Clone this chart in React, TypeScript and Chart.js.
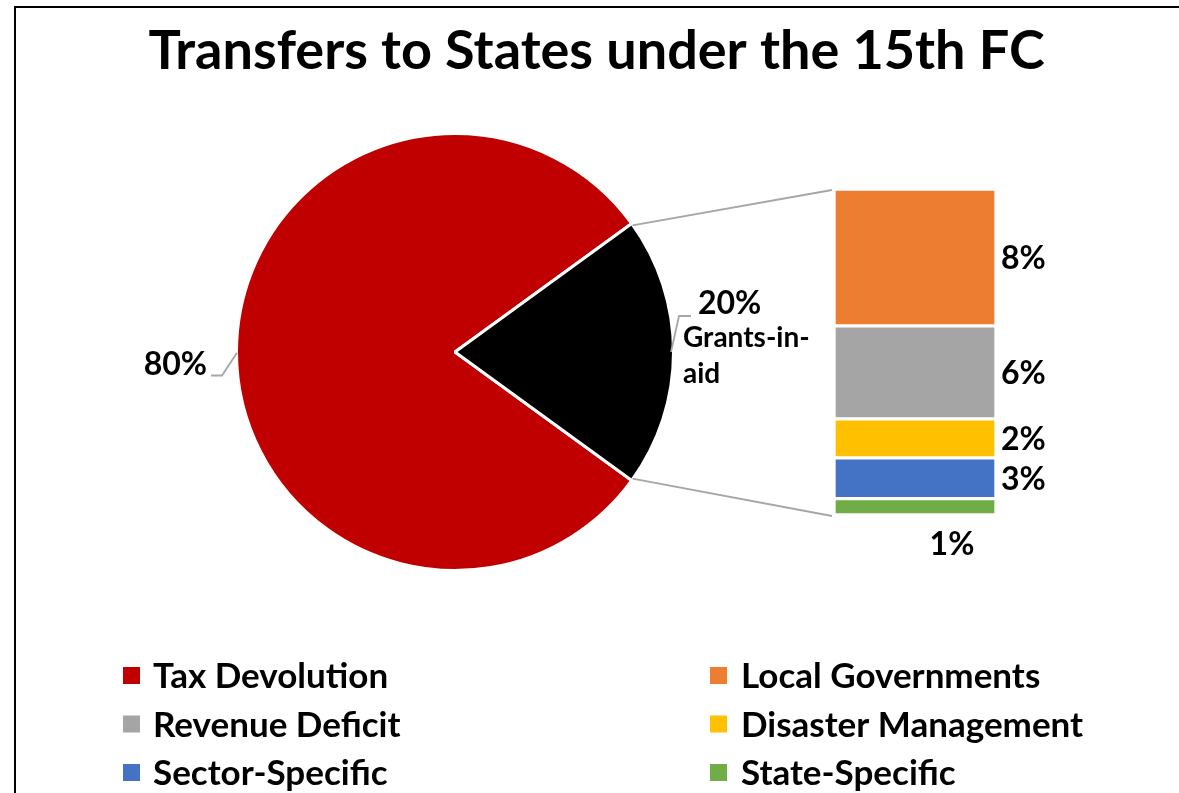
import React, { useEffect, useRef } from 'react';
import { Chart, registerables } from 'chart.js';

Chart.register(...registerables);

// ---------- data ----------
const chartTitle = 'Transfers to States under the 15th FC';
const pieLabels = ['Tax Devolution', 'Grants-in-aid'];
const pieValues = [80.0, 20.0];
const pieColors = ['#C00000', '#000000'];

const barLabels = ['Local Governments', 'Revenue Deficit', 'Disaster Management', 'Sector-Specific', 'State-Specific'];
const barValues = [8.4, 5.7, 2.4, 2.5, 1.0];
const barColors = ['#ED7D31', '#A5A5A5', '#FFC000', '#4472C4', '#70AD47'];

const legendOrder = [
  'Tax Devolution', 'Local Governments',
  'Revenue Deficit', 'Disaster Management',
  'Sector-Specific', 'State-Specific',
];

// ---------- styles ----------
const W = 1179;
const H = 793;
const FONT = 'Lato, "Open Sans", "DejaVu Sans", sans-serif';
const LEADER = '#A6A6A6';

const colorOf = (name: string): string => {
  const pi = pieLabels.indexOf(name);
  if (pi >= 0) return pieColors[pi];
  const bi = barLabels.indexOf(name);
  return barColors[bi];
};

const pct = (v: number) => `${Math.round(v)}%`;

export default function App() {
  const pieRef = useRef<HTMLCanvasElement | null>(null);
  const barRef = useRef<HTMLCanvasElement | null>(null);

  useEffect(() => {
    if (!pieRef.current || !barRef.current) return;
    const total = pieValues.reduce((a, b) => a + b, 0);
    const grantShare = pieValues[1] / total;

    const piePlugin = {
      id: 'pieDecor',
      afterDraw(chart: any) {
        const ctx = chart.ctx as CanvasRenderingContext2D;
        ctx.save();
        // title
        ctx.fillStyle = '#000';
        ctx.font = `bold 54px ${FONT}`;
        ctx.textBaseline = 'alphabetic';
        ctx.textAlign = 'center';
        const tw = ctx.measureText(chartTitle).width;
        const sx = Math.min(1, 897 / tw);
        ctx.save();
        ctx.translate(596.5, 69);
        ctx.scale(sx, 1);
        ctx.fillText(chartTitle, 0, 0);
        ctx.restore();

        // legend (two columns)
        ctx.font = `bold 35px ${FONT}`;
        ctx.textAlign = 'left';
        const colSq = [123, 710];
        const colTx = [153, 741];
        const rowBase = [688, 736.5, 785];
        legendOrder.forEach((name, i) => {
          const c = i % 2;
          const r = Math.floor(i / 2);
          ctx.fillStyle = colorOf(name);
          ctx.fillRect(colSq[c], rowBase[r] - 21, 17, 17);
          ctx.fillStyle = '#000';
          ctx.fillText(name, colTx[c], rowBase[r]);
        });

        // slice labels
        const meta = chart.getDatasetMeta(0);
        const red = meta.data[0];
        const blk = meta.data[1];
        const R = red.outerRadius - 1.5;
        const midR = (red.startAngle + red.endAngle) / 2;
        const ex = red.x + R * Math.cos(midR);
        const ey = red.y + R * Math.sin(midR);
        ctx.strokeStyle = LEADER;
        ctx.lineWidth = 1.8;
        ctx.beginPath();
        ctx.moveTo(ex - 27, ey + 23.5);
        ctx.lineTo(ex - 16, ey + 23.5);
        ctx.lineTo(ex - 1, ey + 0.7);
        ctx.stroke();
        ctx.fillStyle = '#000';
        ctx.font = `bold 32px ${FONT}`;
        ctx.textAlign = 'right';
        ctx.fillText(pct(pieValues[0]), ex - 31, ey + 23);

        const midB = (blk.startAngle + blk.endAngle) / 2;
        const bx = blk.x + R * Math.cos(midB);
        const by = blk.y + R * Math.sin(midB);
        ctx.beginPath();
        ctx.moveTo(bx + 19, by - 36);
        ctx.lineTo(bx + 7, by - 36);
        ctx.lineTo(bx - 1, by);
        ctx.stroke();
        ctx.textAlign = 'left';
        ctx.fillText(pct(pieValues[1]), bx + 26, by - 38);
        ctx.font = `bold 28px ${FONT}`;
        ctx.fillText('Grants-in-', bx + 11, by - 5);
        ctx.fillText('aid', bx + 11, by + 31);
        ctx.restore();
      },
    };

    const pie = new Chart(pieRef.current, {
      type: 'pie',
      data: {
        labels: pieLabels,
        datasets: [
          {
            data: pieValues,
            backgroundColor: pieColors,
            borderColor: '#FFFFFF',
            borderWidth: 3,
          },
        ],
      },
      options: {
        responsive: false,
        animation: false,
        events: [],
        rotation: 90 + (360 * grantShare) / 2,
        radius: 218.5,
        layout: { padding: { left: 100, right: 369, top: 100, bottom: 189 } },
        plugins: { legend: { display: false }, tooltip: { enabled: false }, title: { display: false } },
      } as any,
      plugins: [piePlugin],
    });

    const order = barLabels.map((_, i) => i).reverse(); // bottom of stack first
    const barPlugin = {
      id: 'barDecor',
      afterDraw(chart: any) {
        const ctx = chart.ctx as CanvasRenderingContext2D;
        ctx.save();
        let left = Infinity;
        let top = Infinity;
        let bottom = -Infinity;
        chart.data.datasets.forEach((ds: any, di: number) => {
          const el = chart.getDatasetMeta(di).data[0];
          const p = el.getProps(['x', 'y', 'base', 'width'], true);
          left = Math.min(left, p.x - p.width / 2);
          top = Math.min(top, p.y, p.base);
          bottom = Math.max(bottom, p.y, p.base);
          const v = ds.data[0];
          const h = Math.abs(p.base - p.y);
          const cy = (p.y + p.base) / 2;
          ctx.fillStyle = '#000';
          ctx.font = `bold 32px ${FONT}`;
          ctx.textBaseline = 'alphabetic';
          if (h < 20) {
            ctx.textAlign = 'center';
            ctx.fillText(pct(v), p.x + 37, Math.max(p.y, p.base) + 40);
          } else {
            ctx.textAlign = 'left';
            ctx.fillText(pct(v), p.x + p.width / 2 + 5, cy + 12);
          }
        });
        // connector lines from the grants slice to the bar
        const blk = pie.getDatasetMeta(0).data[1] as any;
        const R = blk.outerRadius - 1.5;
        const p1x = blk.x + R * Math.cos(blk.startAngle);
        const p1y = blk.y + R * Math.sin(blk.startAngle);
        const p2x = blk.x + R * Math.cos(blk.endAngle);
        const p2y = blk.y + R * Math.sin(blk.endAngle);
        ctx.strokeStyle = LEADER;
        ctx.lineWidth = 1.8;
        ctx.beginPath();
        ctx.moveTo(p1x + 2, p1y + 1);
        ctx.lineTo(left - 2, top + 1);
        ctx.moveTo(p2x + 2, p2y - 1);
        ctx.lineTo(left - 2, bottom + 1);
        ctx.stroke();
        ctx.restore();
      },
    };

    const bar = new Chart(barRef.current, {
      type: 'bar',
      data: {
        labels: [pieLabels[1]],
        datasets: order.map((i) => ({
          label: barLabels[i],
          data: [barValues[i]],
          backgroundColor: barColors[i],
          borderColor: '#FFFFFF',
          borderWidth: 2,
          borderSkipped: false,
          barPercentage: 1,
          categoryPercentage: 1,
        })),
      },
      options: {
        responsive: false,
        animation: false,
        events: [],
        layout: { padding: { left: 834, right: 183, top: 189, bottom: 278 } },
        scales: {
          x: { display: false, stacked: true },
          y: { display: false, stacked: true, min: 0, max: barValues.reduce((a, b) => a + b, 0) },
        },
        plugins: { legend: { display: false }, tooltip: { enabled: false }, title: { display: false } },
      } as any,
      plugins: [barPlugin],
    });

    return () => {
      bar.destroy();
      pie.destroy();
    };
  }, []);

  return (
    <div style={{ position: 'absolute', left: 0, top: 0, width: W, height: H, background: '#fff', overflow: 'hidden' }}>
      <div
        style={{
          position: 'absolute',
          left: 14,
          top: 6,
          width: W - 14,
          height: H,
          borderLeft: '2px solid #000',
          borderTop: '2px solid #000',
          boxSizing: 'border-box',
        }}
      />
      <canvas ref={pieRef} width={W} height={H} style={{ position: 'absolute', left: 0, top: 0, width: W, height: H }} />
      <canvas ref={barRef} width={W} height={H} style={{ position: 'absolute', left: 0, top: 0, width: W, height: H }} />
    </div>
  );
}
